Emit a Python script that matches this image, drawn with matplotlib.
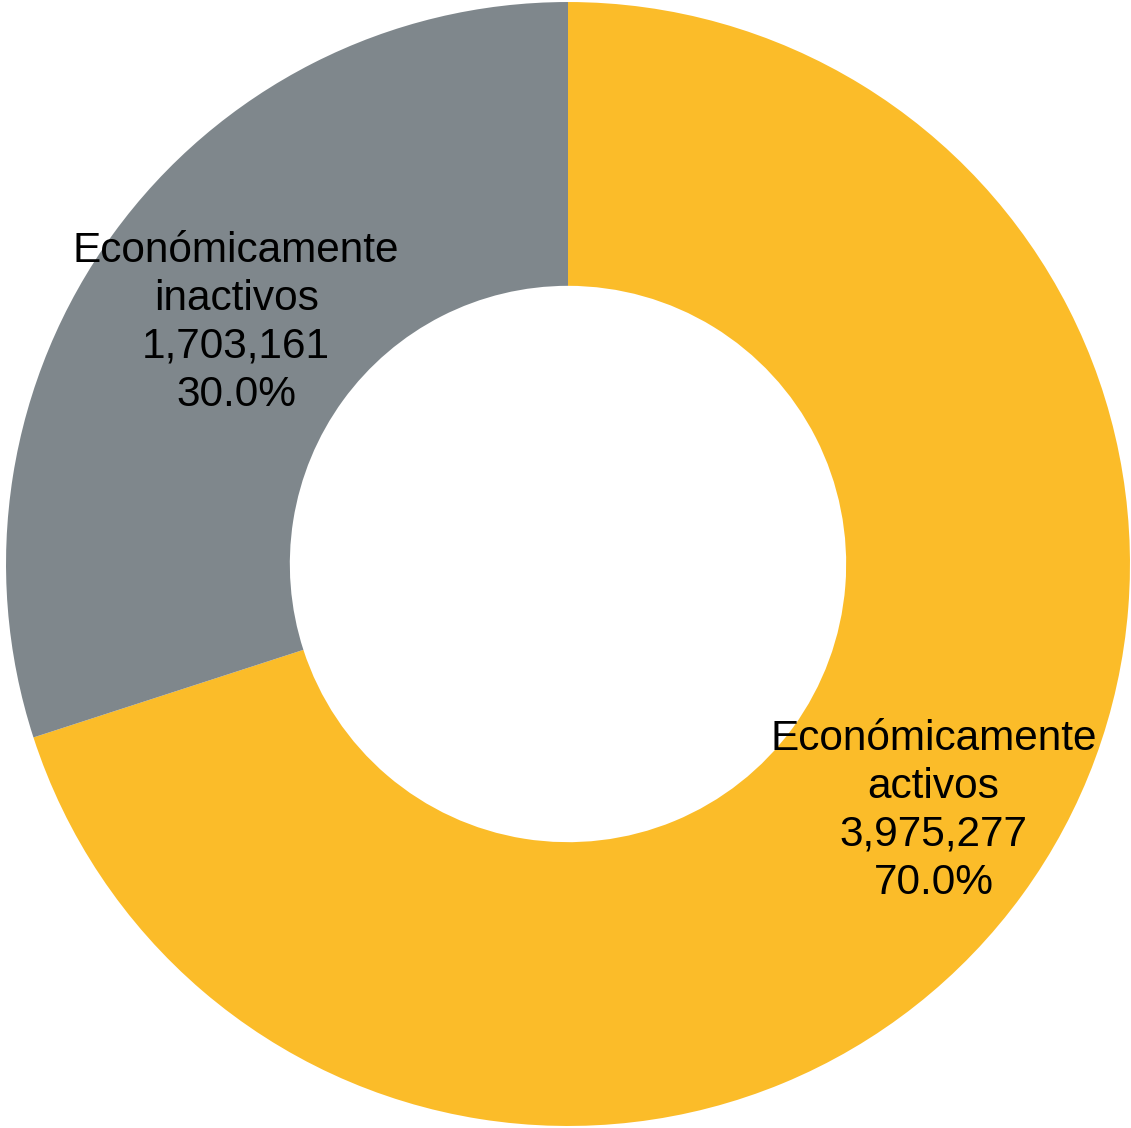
import numpy as np
from matplotlib import pyplot as plt

categories = ["Económicamente\nactivos", "Económicamente\ninactivos"]
values = [3975277, 1703161]
colors = ["#FBBC29", "#7F878C"]
label_dist = [0.785, 0.73]
label_turn = [2.0, 0.0]  # small angle nudge, degrees

plt.rcParams['font.family'] = ['Liberation Sans', 'DejaVu Sans']

fig = plt.figure(figsize=(11.31, 11.28), dpi=100)
ax = fig.add_axes([0, 0, 1, 1])

total = sum(values)
wedges, _ = ax.pie(values, colors=colors, startangle=90, counterclock=False,
                   radius=1.0, wedgeprops=dict(width=0.505, linewidth=0))

for w, name, v, d, t in zip(wedges, categories, values, label_dist, label_turn):
    mid = np.deg2rad((w.theta1 + w.theta2) / 2 + t)
    txt = "%s\n%s\n%.1f%%" % (name, format(v, ","), 100.0 * v / total)
    ax.text(d * np.cos(mid), d * np.sin(mid), txt, ha='center', va='center',
            multialignment='center', fontsize=30.5, linespacing=1.26)

ax.set_xlim(-1.0107, 1.0018)
ax.set_ylim(-1.0036, 1.0036)
ax.set_aspect('equal')
ax.axis('off')

fig.savefig("out.png", dpi=100, facecolor='white')
